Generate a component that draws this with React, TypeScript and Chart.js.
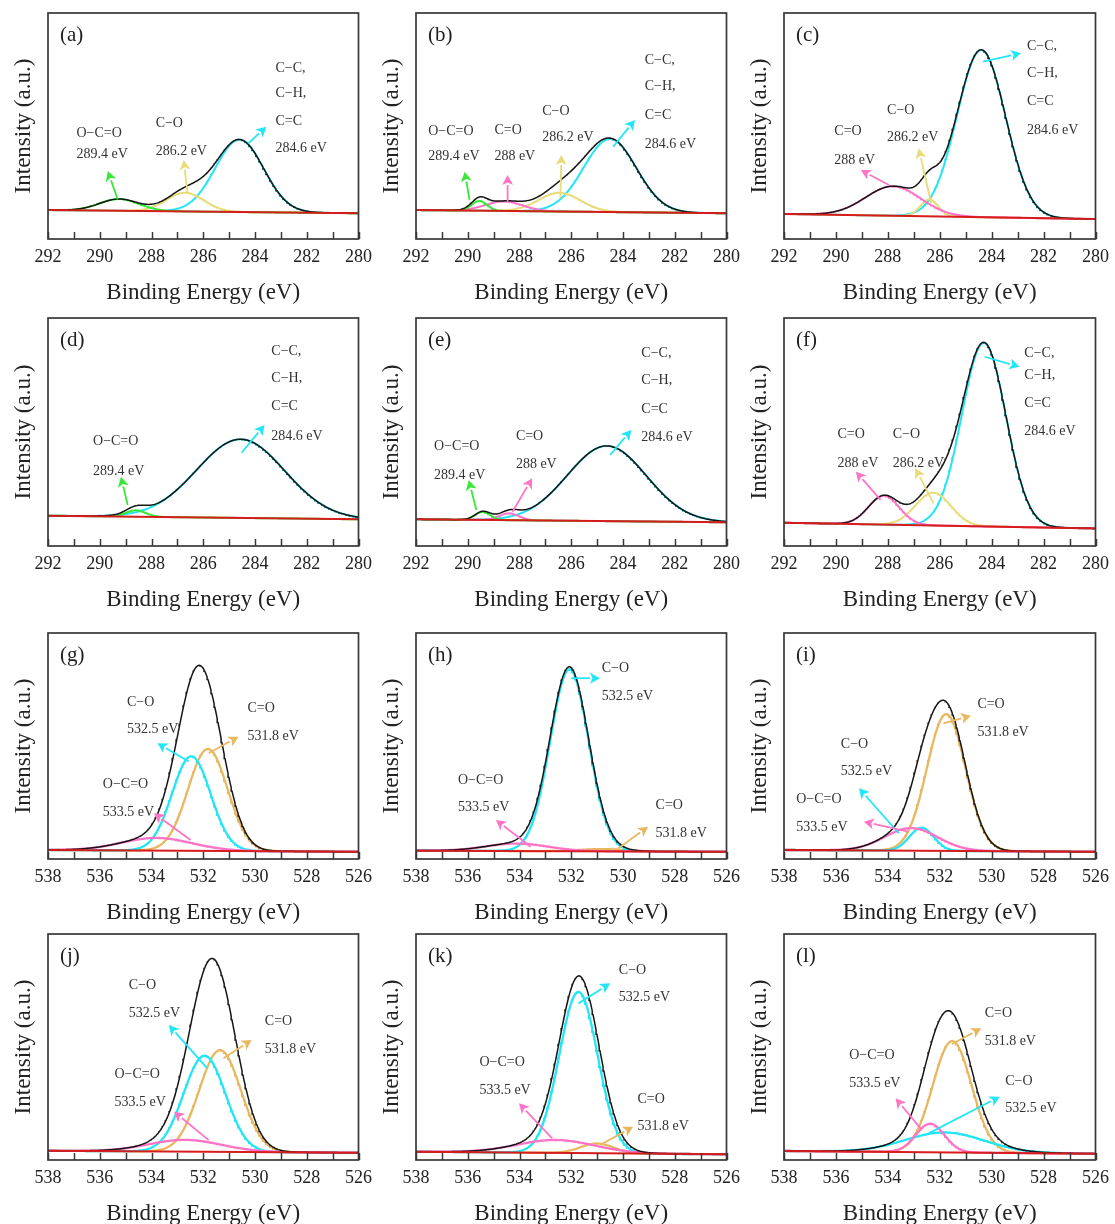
import React, { useEffect, useRef } from "react";
import { Chart, registerables } from "chart.js";

Chart.register(...registerables);

const FONT = '"Liberation Serif", "Times New Roman", Times, serif';

// ---------------- DATA ----------------
const panelLabels = ["(a)", "(b)", "(c)", "(d)", "(e)", "(f)", "(g)", "(h)", "(i)", "(j)", "(k)", "(l)"];
const c1sRange = [280, 292];
const o1sRange = [526, 538];
const c1sTickLabels = [292, 290, 288, 286, 284, 282, 280];
const o1sTickLabels = [538, 536, 534, 532, 530, 528, 526];
const xTitle = "Binding Energy (eV)";
const yTitle = "Intensity (a.u.)";

// fitted component species, per panel
const peakSpecies = [
  ["O−C=O", "C−O", "C−C"],
  ["O−C=O", "C=O", "C−O", "C−C"],
  ["C=O", "C−O", "C−C"],
  ["O−C=O", "C−C"],
  ["O−C=O", "C=O", "C−C"],
  ["C=O", "C−O", "C−C"],
  ["O−C=O", "C−O", "C=O"],
  ["O−C=O", "C−O", "C=O"],
  ["O−C=O", "C−O", "C=O"],
  ["O−C=O", "C−O", "C=O"],
  ["O−C=O", "C−O", "C=O"],
  ["O−C=O", "C−O", "C=O"],
];
// peak centre (eV)
const peakCenters = [
  [289.25, 286.7, 284.6],
  [289.55, 288.6, 286.45, 284.5],
  [287.8, 286.4, 284.4],
  [288.6, 284.55],
  [289.42, 288.4, 284.62],
  [288.15, 286.25, 284.3],
  [533.8, 532.46, 531.82],
  [534.1, 532.07, 530.8],
  [533.1, 532.7, 531.75],
  [532.7, 531.95, 531.35],
  [532.6, 531.72, 531.0],
  [532.37, 531.8, 531.52],
];
// peak height above background (% of plot height)
const peakHeights = [
  [5.2, 8.3, 32],
  [4.3, 4.2, 8.3, 32.3],
  [13, 7.5, 74],
  [2.8, 34.5],
  [3.5, 3.0, 33],
  [12.6, 14.4, 80.5],
  [5.6, 41.8, 45.1],
  [3.3, 80.5, 1.0],
  [10, 10.2, 60.5],
  [5.2, 42.5, 45],
  [5.7, 71.3, 4.3],
  [12.6, 8.8, 49.3],
];
// peak FWHM (eV)
const peakWidths = [
  [1.8, 1.7, 2.2],
  [0.7, 1.7, 1.9, 2.4],
  [2.5, 0.8, 2.2],
  [0.9, 4.0],
  [0.7, 0.9, 3.6],
  [1.4, 1.6, 2.0],
  [3.2, 1.75, 1.8],
  [2.8, 1.75, 2.0],
  [2.4, 1.1, 1.75],
  [3.3, 1.9, 1.9],
  [3.5, 1.75, 1.5],
  [1.3, 3.6, 1.75],
];
// background level at high-BE end and low-BE end (% of plot height)
const backgroundHighBE = [12.8, 12.8, 11.1, 13.3, 11.7, 10.2, 4.0, 3.7, 4.0, 4.1, 3.7, 4.0];
const backgroundLowBE = [11.4, 11.4, 8.8, 11.7, 10.4, 7.7, 3.2, 3.2, 3.2, 3.2, 2.5, 2.8];

// annotation labels [text, eV, %]
const annotationTexts: [string, number, number][][] = [
  [["O−C=O", 290.9, 46.8], ["289.4 eV", 290.9, 37.5], ["C−O", 287.84, 51.2], ["286.2 eV", 287.84, 38.6], ["C−C,", 283.21, 75.5], ["C−H,", 283.21, 64.5], ["C=C", 283.21, 51.9], ["284.6 eV", 283.21, 40.1]],
  [["O−C=O", 291.53, 47.5], ["289.4 eV", 291.53, 36.4], ["C=O", 288.97, 48.2], ["288 eV", 288.97, 36.4], ["C−O", 287.12, 56.3], ["286.2 eV", 287.12, 44.8], ["C−C,", 283.16, 79.2], ["C−H,", 283.16, 67.4], ["C=C", 283.16, 54.9], ["284.6 eV", 283.16, 42.0]],
  [["C=O", 290.06, 47.5], ["288 eV", 290.06, 35.0], ["C−O", 288.03, 57.1], ["286.2 eV", 288.03, 44.8], ["C−C,", 282.64, 85.1], ["C−H,", 282.64, 73.3], ["C=C", 282.64, 60.8], ["284.6 eV", 282.64, 48.2]],
  [["O−C=O", 290.26, 45.7], ["289.4 eV", 290.26, 32.9], ["C−C,", 283.37, 85.2], ["C−H,", 283.37, 73.5], ["C=C", 283.37, 61.1], ["284.6 eV", 283.37, 47.9]],
  [["O−C=O", 291.3, 43.6], ["289.4 eV", 291.3, 30.8], ["C=O", 288.14, 47.9], ["288 eV", 288.14, 35.8], ["C−C,", 283.29, 84.5], ["C−H,", 283.29, 72.8], ["C=C", 283.29, 60.1], ["284.6 eV", 283.29, 47.5]],
  [["C=O", 289.94, 49.0], ["288 eV", 289.94, 36.3], ["C−O", 287.81, 49.0], ["286.2 eV", 287.81, 36.3], ["C−C,", 282.74, 84.5], ["C−H,", 282.74, 75.0], ["C=C", 282.74, 62.6], ["284.6 eV", 282.74, 50.1]],
  [["C−O", 534.95, 69.3], ["532.5 eV", 534.95, 57.5], ["C=O", 530.29, 66.7], ["531.8 eV", 530.29, 54.4], ["O−C=O", 535.88, 33.1], ["533.5 eV", 535.88, 20.7]],
  [["C−O", 530.82, 84.4], ["532.5 eV", 530.82, 71.8], ["O−C=O", 536.38, 35.0], ["533.5 eV", 536.38, 22.7], ["C=O", 528.74, 23.9], ["531.8 eV", 528.74, 11.4]],
  [["C=O", 530.55, 68.4], ["531.8 eV", 530.55, 56.1], ["C−O", 535.81, 50.9], ["532.5 eV", 535.81, 38.6], ["O−C=O", 537.53, 26.5], ["533.5 eV", 537.53, 14.0]],
  [["C−O", 534.88, 77.4], ["532.5 eV", 534.88, 64.9], ["C=O", 529.62, 61.5], ["531.8 eV", 529.62, 49.1], ["O−C=O", 535.43, 37.9], ["533.5 eV", 535.43, 25.5]],
  [["C−O", 530.16, 84.1], ["532.5 eV", 530.16, 71.8], ["O−C=O", 535.55, 43.1], ["533.5 eV", 535.55, 30.7], ["C=O", 529.44, 27.0], ["531.8 eV", 529.44, 14.7]],
  [["C=O", 530.27, 64.9], ["531.8 eV", 530.27, 52.3], ["O−C=O", 535.49, 46.2], ["533.5 eV", 535.49, 33.9], ["C−O", 529.48, 35.0], ["532.5 eV", 529.48, 22.9]],
];
// annotation arrows [component index, eV1, %1, eV2, %2]
const annotationArrows: [number, number, number, number, number][][] = [
  [[0, 289.31, 17.6, 289.69, 30.1], [1, 286.62, 20.9, 286.75, 35.0], [2, 284.26, 42.3, 283.56, 49.7]],
  [[0, 289.93, 17.3, 290.12, 29.8], [1, 288.46, 16.5, 288.46, 28.3], [2, 286.42, 18.0, 286.38, 37.2], [3, 284.38, 40.8, 283.54, 52.7]],
  [[0, 287.96, 23.9, 289.04, 30.5], [1, 286.33, 15.8, 286.81, 40.1], [2, 284.33, 78.5, 282.87, 82.2]],
  [[0, 288.92, 18.0, 289.18, 30.4], [1, 284.52, 40.9, 283.63, 53.1]],
  [[0, 289.67, 15.8, 289.96, 28.9], [1, 288.27, 15.0, 287.51, 29.7], [2, 284.5, 39.9, 283.68, 50.9]],
  [[0, 288.28, 20.2, 289.23, 32.6], [1, 286.24, 18.7, 286.94, 34.1], [2, 284.27, 83.0, 282.93, 78.6]],
  [[1, 532.56, 43.1, 533.77, 51.2], [2, 531.79, 46.8, 530.64, 54.1], [0, 532.49, 8.4, 533.9, 20.2]],
  [[1, 532.0, 80.0, 530.89, 80.0], [0, 533.57, 5.4, 534.91, 17.3], [2, 530.18, 4.7, 529.03, 14.3]],
  [[2, 531.86, 60.0, 530.8, 63.4], [1, 533.58, 11.4, 535.11, 31.3], [0, 533.22, 12.1, 534.92, 16.5]],
  [[1, 531.86, 40.8, 533.33, 59.7], [2, 531.22, 45.0, 530.13, 53.1], [0, 531.79, 8.8, 533.13, 21.4]],
  [[1, 531.72, 69.3, 530.5, 78.2], [0, 532.74, 9.6, 534.02, 25.1], [2, 530.89, 6.6, 529.61, 14.7]],
  [[2, 531.54, 51.2, 530.4, 58.3], [0, 532.69, 13.3, 533.7, 27.3], [1, 532.43, 11.8, 529.69, 28.0]],
];

// ---------------- STYLE / LAYOUT ----------------
const c1sColors: Record<string, string> = { "O−C=O": "#38e838", "C=O": "#ff74c6", "C−O": "#e6dc78", "C−C": "#22e6f6" };
const o1sColors: Record<string, string> = { "O−C=O": "#ff74c6", "C−O": "#22e6f6", "C=O": "#e8b860" };
const BG_COLOR = "#d61c1c";
const ENV_COLOR = "#151515";

const colLeft = [48, 416, 784];
const colWidth = [313, 313, 314];
const rowTop = [13, 318, 633, 934];
const rowBottom = [239, 546, 859, 1160];
const Y_W = 48;
const PAD_T = 10;
const PAD_R = 20;
const AX_H = 68;

function Panel({ idx }: { idx: number }) {
  const ref = useRef<HTMLCanvasElement | null>(null);
  const col = idx % 3;
  const row = Math.floor(idx / 3);
  const plotH = rowBottom[row] - rowTop[row];
  const cw = Y_W + colWidth[col] + PAD_R;
  const ch = PAD_T + plotH + AX_H;
  const left = colLeft[col] - Y_W;
  const top = rowTop[row] - PAD_T;

  useEffect(() => {
    const isO = idx >= 6;
    const [lo, hi] = isO ? o1sRange : c1sRange;
    const tickArr = isO ? o1sTickLabels : c1sTickLabels;
    const colors = isO ? o1sColors : c1sColors;
    const species = peakSpecies[idx];
    const cs = peakCenters[idx];
    const hs = peakHeights[idx];
    const ws = peakWidths[idx];
    const bHi = backgroundHighBE[idx];
    const bLo = backgroundLowBE[idx];
    const bg = (e: number) => bLo + ((bHi - bLo) * (e - lo)) / (hi - lo);
    const comp = (k: number, e: number) => hs[k] * Math.exp((-4 * Math.LN2 * (e - cs[k]) ** 2) / (ws[k] * ws[k]));

    const N = 400;
    const xs: number[] = [];
    for (let i = 0; i <= N; i++) xs.push(lo + ((hi - lo) * i) / N);

    const compSets = species.map((sp, k) => ({
      data: xs.map((e) => ({ x: e, y: bg(e) + comp(k, e) })),
      borderColor: colors[sp],
      borderWidth: isO ? 2.3 : 2,
    }));
    const envelope = {
      data: xs.map((e) => {
        let s = bg(e);
        for (let k = 0; k < species.length; k++) s += comp(k, e);
        return { x: e, y: s };
      }),
      borderColor: ENV_COLOR,
      borderWidth: 1.5,
    };
    const background = {
      data: [{ x: lo, y: bLo }, { x: hi, y: bHi }],
      borderColor: BG_COLOR,
      borderWidth: 2,
    };

    const deco = {
      id: "deco" + idx,
      afterDraw(chart: any) {
        const { ctx, chartArea } = chart;
        const xS = chart.scales.x;
        const yS = chart.scales.y;
        const { left: l, right: r, top: t, bottom: b } = chartArea;
        ctx.save();
        ctx.strokeStyle = "#383838";
        ctx.lineWidth = 1.5;
        for (let v = lo; v <= hi; v += 1) {
          const px = Math.round(xS.getPixelForValue(v)) + 0.5;
          ctx.beginPath();
          ctx.moveTo(px, b);
          ctx.lineTo(px, b - 7);
          ctx.stroke();
        }
        ctx.lineWidth = 1.7;
        ctx.strokeRect(l, t, r - l, b - t);

        ctx.fillStyle = "#1e1e1e";
        ctx.textBaseline = "middle";
        ctx.textAlign = "left";
        ctx.font = `21px ${FONT}`;
        ctx.fillText(panelLabels[idx], l + 12, t + 22);

        ctx.font = `14px ${FONT}`;
        ctx.fillStyle = "#333";
        for (const [txt, ex, ey] of annotationTexts[idx]) {
          ctx.fillText(txt, xS.getPixelForValue(ex), yS.getPixelForValue(ey));
        }
        for (const [k, e1, y1, e2, y2] of annotationArrows[idx]) {
          const x1 = xS.getPixelForValue(e1);
          const yy1 = yS.getPixelForValue(y1);
          const x2 = xS.getPixelForValue(e2);
          const yy2 = yS.getPixelForValue(y2);
          const color = colors[species[k]];
          const ang = Math.atan2(yy2 - yy1, x2 - x1);
          const head = 10;
          const hw = 5.5;
          const bx = x2 - head * Math.cos(ang);
          const by = yy2 - head * Math.sin(ang);
          ctx.strokeStyle = color;
          ctx.fillStyle = color;
          ctx.lineWidth = 1.8;
          ctx.beginPath();
          ctx.moveTo(x1, yy1);
          ctx.lineTo(bx, by);
          ctx.stroke();
          ctx.beginPath();
          ctx.moveTo(x2, yy2);
          ctx.lineTo(bx + hw * Math.sin(ang), by - hw * Math.cos(ang));
          ctx.lineTo(x2 - head * 0.75 * Math.cos(ang), yy2 - head * 0.75 * Math.sin(ang));
          ctx.lineTo(bx - hw * Math.sin(ang), by + hw * Math.cos(ang));
          ctx.closePath();
          ctx.fill();
        }
        ctx.restore();
      },
    };

    const chart = new Chart(ref.current as HTMLCanvasElement, {
      type: "line",
      data: { datasets: [background, envelope, ...compSets] as any },
      options: {
        animation: false,
        responsive: false,
        devicePixelRatio: 1,
        parsing: false as any,
        layout: { padding: { left: 0, top: PAD_T, right: PAD_R, bottom: 0 } },
        elements: { point: { radius: 0 }, line: { tension: 0, fill: false } },
        plugins: { legend: { display: false }, tooltip: { enabled: false }, title: { display: false } },
        scales: {
          x: {
            type: "linear",
            min: lo,
            max: hi,
            reverse: true,
            afterFit: (s: any) => {
              s.height = AX_H;
            },
            afterBuildTicks: (s: any) => {
              s.ticks = tickArr.map((v) => ({ value: v }));
            },
            grid: { display: false, drawTicks: false },
            border: { display: false },
            ticks: {
              font: { family: FONT, size: 18, lineHeight: 1 },
              color: "#222",
              padding: 9,
              maxRotation: 0,
              autoSkip: false,
              callback: (v: any) => String(v),
            },
            title: {
              display: true,
              text: xTitle,
              color: "#222",
              font: { family: FONT, size: 23, lineHeight: 1 },
              padding: { top: 0, bottom: 3 },
            },
          },
          y: {
            type: "linear",
            min: 0,
            max: 100,
            afterFit: (s: any) => {
              s.width = Y_W;
            },
            grid: { display: false, drawTicks: false },
            border: { display: false },
            ticks: { display: false },
            title: {
              display: true,
              text: yTitle,
              color: "#222",
              font: { family: FONT, size: 23, lineHeight: 1 },
              padding: { top: 12, bottom: 0 },
            },
          },
        },
      } as any,
      plugins: [deco],
    });
    return () => chart.destroy();
  }, [idx]);

  return (
    <canvas
      ref={ref}
      width={cw}
      height={ch}
      style={{ position: "absolute", left, top, width: cw, height: ch }}
    />
  );
}

export default function App() {
  return (
    <div style={{ position: "absolute", left: 0, top: 0, width: 1115, height: 1224, background: "#fff", overflow: "hidden" }}>
      {panelLabels.map((_, i) => (
        <Panel key={i} idx={i} />
      ))}
    </div>
  );
}
